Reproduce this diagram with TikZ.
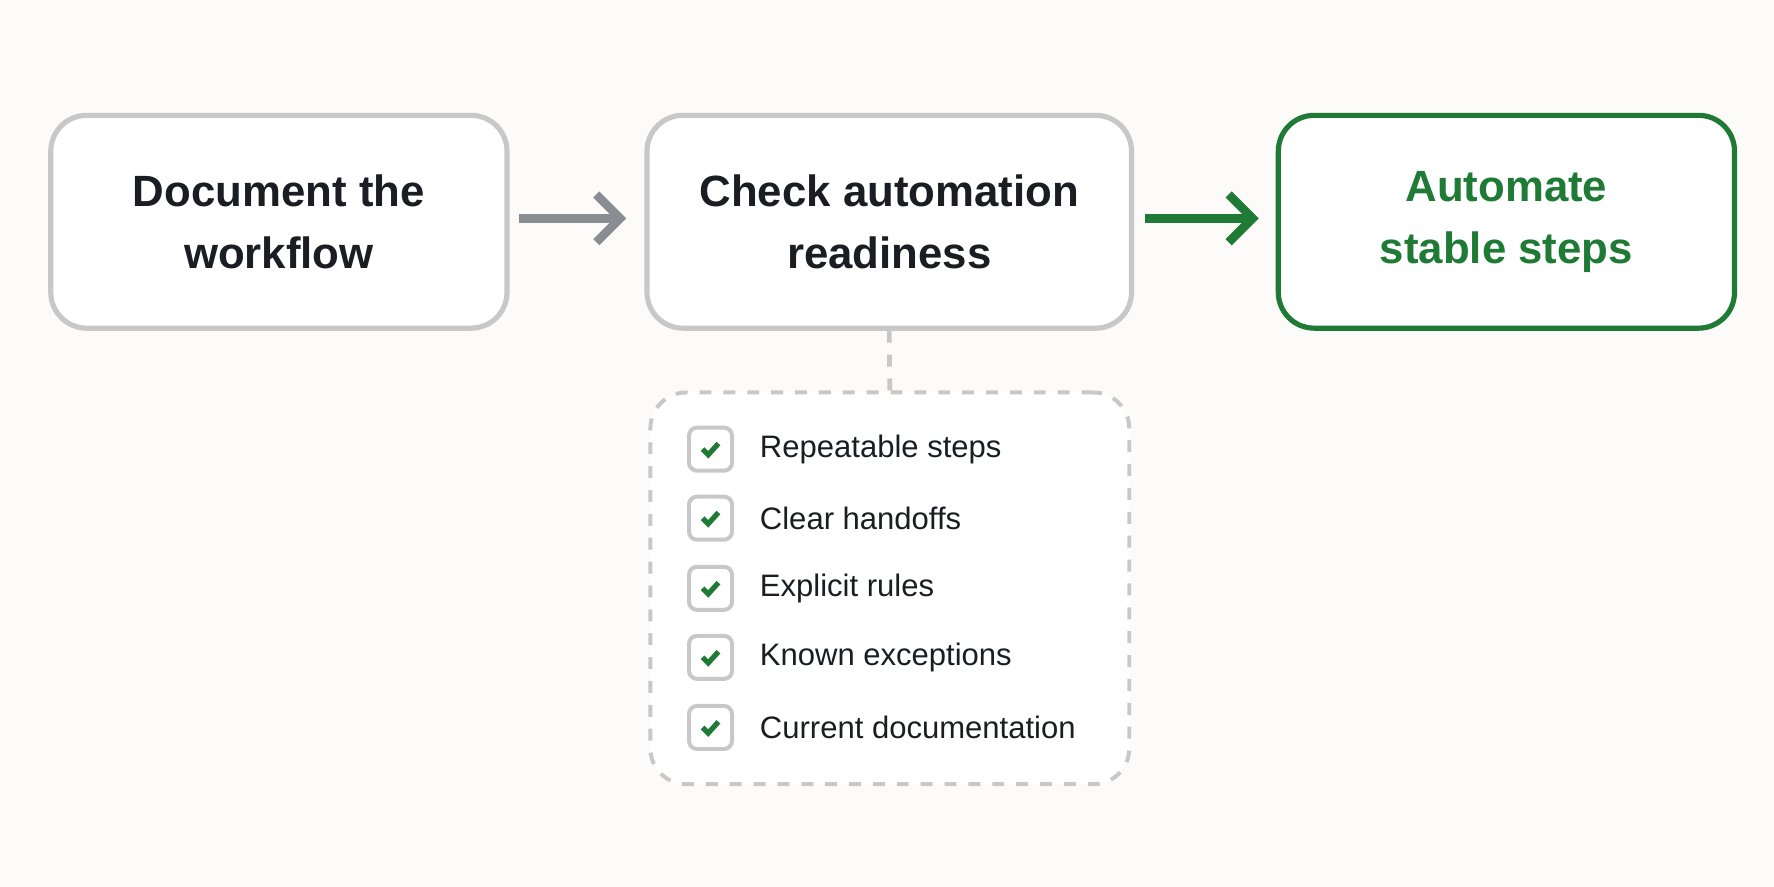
\documentclass[tikz,border=0pt]{standalone}
\usepackage{fontspec}
\setmainfont{Liberation Sans}
\usetikzlibrary{arrows.meta}
\definecolor{bg}{HTML}{FCFBFA}
\definecolor{bd}{HTML}{C8C8C8}
\definecolor{gr}{HTML}{1E7A34}
\definecolor{ar}{HTML}{8A8E92}
\definecolor{tx}{HTML}{1A1D21}
\begin{document}
\begin{tikzpicture}[x=0.01cm,y=-0.01cm,
  stepbox/.style={draw=bd,line width=1.3pt,rounded corners=9pt,fill=white,minimum width=4.03cm,minimum height=1.88cm,align=center,font=\fontsize{11}{15.5}\selectfont\bfseries,text=tx},
  cb/.style={draw=bd,line width=1pt,rounded corners=2pt,fill=white,minimum size=0.38cm,inner sep=0pt},
  item/.style={anchor=west,font=\fontsize{7.8}{10}\selectfont,text=tx,inner sep=0pt}]
\fill[bg] (0,0) rectangle (1568,784);
\useasboundingbox (0,0) rectangle (1568,784);
\node[stepbox] (a) at (246.5,196) {Document the\\workflow};
\node[stepbox,minimum width=4.28cm] (b) at (786,196) {Check automation\\readiness};
\node[stepbox,draw=gr,text=gr] (c) at (1331.5,196) {Automate\\stable steps};
\draw[ar,line width=2.2pt,-{Straight Barb[length=6pt,width=12pt]}] ([xshift=0.08cm,yshift=0.03cm]a.east) -- ([xshift=-0.16cm,yshift=0.03cm]b.west);
\draw[gr,line width=2.2pt,-{Straight Barb[length=6pt,width=12pt]}] ([xshift=0.1cm,yshift=0.03cm]b.east) -- ([xshift=-0.15cm,yshift=0.03cm]c.west);
\node[draw=bd,dashed,line width=1pt,rounded corners=9pt,fill=white,minimum width=4.23cm,minimum height=3.46cm] (list) at (786.5,520) {};
\draw[bd,dashed,line width=1.2pt] (b.south) -- (list.north);
\foreach \y/\t [count=\i] in {397/Repeatable steps,458/Clear handoffs,520/Explicit rules,581/Known exceptions,643/Current documentation}{
  \node[cb] (k\i) at (628,\y) {};
  \draw[gr,line width=1.3pt] ([xshift=-0.07cm]k\i.center) -- ++(5,5) -- ++(9,-10);
  \node[item] (t\i) at (671,\y) {\t};
}
\end{tikzpicture}
\end{document}
